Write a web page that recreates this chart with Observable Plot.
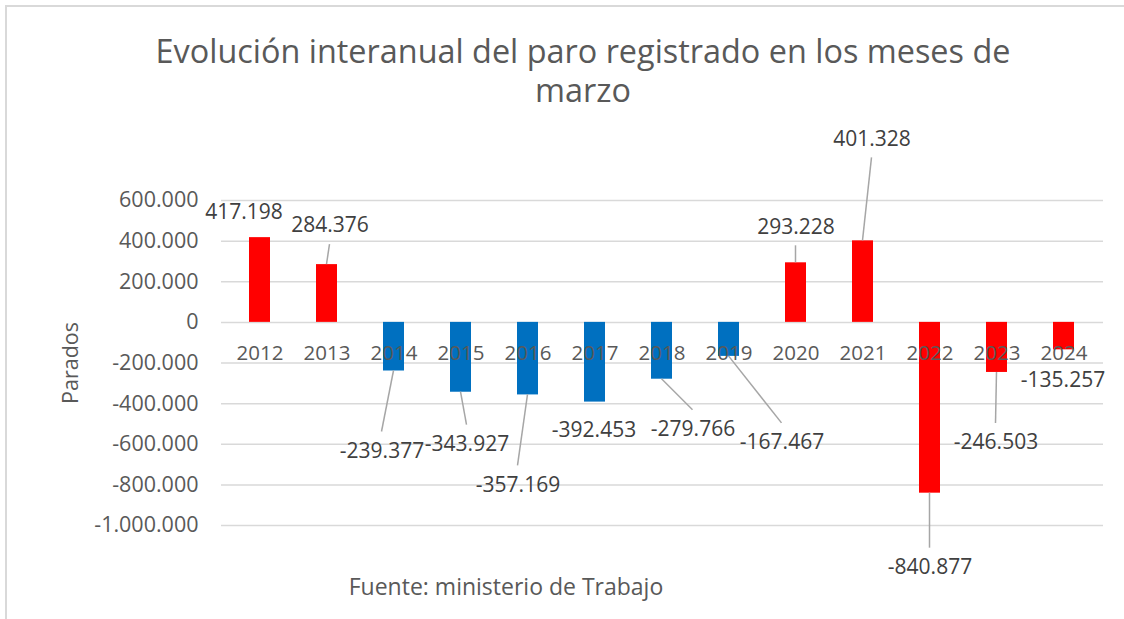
<!DOCTYPE html>
<html lang="es">
<head>
<meta charset="utf-8">
<script src="https://cdn.jsdelivr.net/npm/d3@7"></script>
<script src="https://cdn.jsdelivr.net/npm/@observablehq/plot@0.6"></script>
<style>
html,body{margin:0;padding:0;background:#fff;overflow:hidden;}
#wrap{position:relative;width:1124px;height:619px;font-family:"Open Sans",sans-serif;overflow:hidden;}
#frame{position:absolute;left:5px;top:5px;width:1140px;height:640px;border:2px solid #d9d9d9;box-sizing:border-box;}
#title{position:absolute;left:0;width:1166px;top:31px;text-align:center;font-size:32.4px;line-height:39px;color:#595959;}
#caption{position:absolute;left:0;width:1012px;top:571px;text-align:center;font-size:23px;line-height:30px;color:#595959;}
#chart{position:absolute;left:0;top:0;}
</style>
</head>
<body>
<div id="wrap">
  <div id="frame"></div>
  <div id="chart"></div>
  <div id="title">Evolución interanual del paro registrado en los meses de<br>marzo</div>
  <div id="caption">Fuente: ministerio de Trabajo</div>
</div>
<script>
// ---- data ----
const years = ["2012","2013","2014","2015","2016","2017","2018","2019","2020","2021","2022","2023","2024"];
const values = [417198, 284376, -239377, -343927, -357169, -392453, -279766, -167467, 293228, 401328, -840877, -246503, -135257];
const groups = ["rojo","rojo","azul","azul","azul","azul","azul","azul","rojo","rojo","rojo","rojo","rojo"];
const yTicks = [600000, 400000, 200000, 0, -200000, -400000, -600000, -800000, -1000000];
const yLabel = "Parados";

// ---- label layout (pixel offsets of each data label from its bar end) ----
const labelDx = [-16, 3, -12, 6, -10, -1, 31, 53, 0, 9, 0, -1, -1];
const labelDy = [-25, -39, 80, 52, 90, 28, 50, 86, -36, -102, 74, 70, 30];

const locale = d3.formatLocale({decimal: ",", thousands: ".", grouping: [3], currency: ["", ""], minus: "-"});
const fmt = locale.format(",d");

const data = years.map((year, i) => ({year, value: values[i], group: groups[i], dx: labelDx[i], dy: labelDy[i]}));

const GAP = 19;
function leaders(index, scales) {
  const bw = typeof scales.x.bandwidth === "function" ? scales.x.bandwidth() : 0;
  const g = d3.create("svg:g").attr("stroke", "#a6a6a6").attr("stroke-width", 1.5).attr("fill", "none");
  for (const d of data) {
    if (Math.abs(d.dy) <= 32) continue;
    const cx = scales.x(d.year) + bw / 2;
    const cy = scales.y(d.value);
    const ex = cx + d.dx;
    const ey = cy + d.dy - Math.sign(d.dy) * GAP;
    g.append("line").attr("x1", cx).attr("y1", cy).attr("x2", ex).attr("y2", ey);
  }
  return g.node();
}

const chart = Plot.plot({
  width: 1124,
  height: 619,
  marginLeft: 221,
  marginRight: 21,
  marginTop: 200,
  marginBottom: 94,
  style: {fontFamily: "'Open Sans', sans-serif", fontSize: "20px", color: "#595959", background: "transparent", overflow: "visible"},
  x: {domain: years, paddingInner: 0.68, paddingOuter: 0.34, axis: null},
  y: {domain: [-1000000, 600000], axis: null},
  color: {domain: ["rojo", "azul"], range: ["#ff0000", "#0070c0"]},
  marks: [
    Plot.gridY(yTicks, {stroke: "#d9d9d9", strokeOpacity: 1, strokeWidth: 1.5}),
    Plot.axisY(yTicks, {tickSize: 0, tickPadding: 23, tickFormat: fmt, fontSize: 21.5, fill: "#595959", label: null}),
    Plot.text([yLabel], {frameAnchor: "left", textAnchor: "middle", rotate: -90, dx: -150, fontSize: 21.5, fill: "#595959"}),
    Plot.barY(data, {x: "year", y: "value", fill: "group"}),
    leaders,
    Plot.text(data, {x: "year", y: () => 0, text: "year", dy: 31, fontSize: 20.5, fill: "#595959"}),
    ...data.map(d => Plot.text([d], {x: "year", y: "value", text: r => fmt(r.value), dx: d.dx, dy: d.dy, fontSize: 21, fill: "#404040"}))
  ]
});
document.getElementById("chart").appendChild(chart);
</script>
</body>
</html>
